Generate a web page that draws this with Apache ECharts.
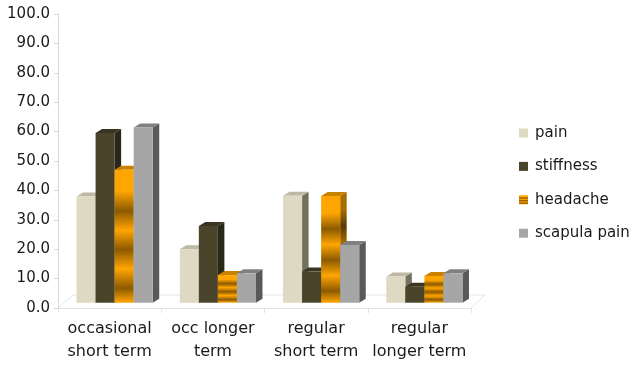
<!DOCTYPE html>
<html>
<head>
<meta charset="utf-8">
<script src="https://cdn.jsdelivr.net/npm/echarts@6/dist/echarts.min.js"></script>
<style>html,body{margin:0;padding:0;background:#fff;}#c{width:634px;height:365px;}</style>
</head>
<body>
<div id="c"></div>
<script>
var categories = ['occasional\nshort term', 'occ longer\nterm', 'regular\nshort term', 'regular\nlonger term'];
var seriesNames = ['pain', 'stiffness', 'headache', 'scapula pain'];
var pain = [36.1, 18.2, 36.4, 8.9];
var stiffness = [57.7, 26.1, 10.6, 5.4];
var headache = [45.2, 9.4, 36.3, 9.1];
var scapulaPain = [59.6, 10.0, 19.6, 10.0];
var yTicks = [0, 10, 20, 30, 40, 50, 60, 70, 80, 90, 100];

var G = echarts.graphic;
function stripes(light, dark) {
  return new G.LinearGradient(0, 0, 0, 1, [
    {offset: 0, color: light}, {offset: 0.16, color: light},
    {offset: 0.31, color: dark}, {offset: 0.455, color: light},
    {offset: 0.60, color: dark}, {offset: 0.745, color: light},
    {offset: 0.89, color: dark}, {offset: 1, color: light}
  ]);
}
var styles = [
  {front: '#DDD9C3', side: '#737060', top: '#BDB9A5'},
  {front: '#4A442A', side: '#29261A', top: '#3A3522'},
  {front: stripes('#FFA500', '#8C5A00'), side: stripes('#A86C00', '#5A3A00'), top: '#C98200'},
  {front: '#A6A6A6', side: '#595959', top: '#808080'}
];
var dataSets = [pain, stiffness, headache, scapulaPain];

function makeRender(s) {
  return function (params, api) {
    var idx = api.value(0), v = api.value(1);
    var band = api.size([1, 0])[0];
    var top = api.coord([idx, v]);
    var base = api.coord([idx, 0]);
    var barW = band * 0.1845;
    var x0 = top[0] - 2 * barW + band * 0.0485 + s * barW;
    var lift = 5.3, dx = 6.5, dy = -4;
    var yT = top[1] - lift, yB = base[1] - lift;
    var st = styles[s];
    return {
      type: 'group',
      children: [
        {type: 'polygon', shape: {points: [[x0 + barW, yT], [x0 + barW + dx, yT + dy], [x0 + barW + dx, yB + dy], [x0 + barW, yB]]}, style: {fill: st.side}},
        {type: 'polygon', shape: {points: [[x0, yT], [x0 + dx, yT + dy], [x0 + barW + dx, yT + dy], [x0 + barW, yT]]}, style: {fill: st.top}},
        {type: 'rect', shape: {x: x0, y: yT, width: barW, height: yB - yT}, style: {fill: st.front}}
      ]
    };
  };
}

var series = dataSets.map(function (d, s) {
  return {
    name: seriesNames[s],
    type: 'custom',
    renderItem: makeRender(s),
    itemStyle: {color: styles[s].front},
    encode: {x: 0, y: 1},
    data: d.map(function (v, i) { return [i, v]; }),
    z: 2 + s
  };
});

var chart = echarts.init(document.getElementById('c'), null, {renderer: 'canvas'});
chart.setOption({
  animation: false,
  backgroundColor: '#ffffff',
  grid: {left: 58, right: 163, top: 14, bottom: 57},
  legend: {
    orient: 'vertical', left: 519, top: 125, icon: 'rect', padding: 0,
    itemWidth: 9, itemHeight: 9, itemGap: 17.4,
    data: seriesNames,
    textStyle: {fontFamily: 'DejaVu Sans', fontSize: 15, color: '#1a1a1a', lineHeight: 16, padding: [0, 0, 0, 2]}
  },
  xAxis: {
    type: 'category', data: categories,
    axisLine: {show: true, lineStyle: {color: '#e4e4e4'}},
    axisTick: {show: true, length: 5, lineStyle: {color: '#e4e4e4'}},
    axisLabel: {fontFamily: 'DejaVu Sans', fontSize: 16, lineHeight: 23, color: '#1a1a1a', margin: 9, interval: 0},
    splitLine: {show: false}
  },
  yAxis: {
    type: 'value', min: 0, max: 100, interval: 10,
    axisLine: {show: true, lineStyle: {color: '#d9d9d9'}},
    axisTick: {show: true, length: 4, lineStyle: {color: '#d9d9d9'}},
    axisLabel: {
      fontFamily: 'DejaVu Sans', fontSize: 15, color: '#1a1a1a', margin: 8, padding: [4, 0, 0, 0],
      formatter: function (v) { return yTicks.indexOf(v) >= 0 ? v.toFixed(1) : ''; }
    },
    splitLine: {show: false}
  },
  graphic: [{
    type: 'polyline', silent: true, z: 0,
    shape: {points: [[58, 308], [73, 295], [485, 295], [471, 308]]},
    style: {stroke: '#e4e4e4', lineWidth: 1, fill: null}
  }],
  series: series
});
</script>
</body>
</html>
